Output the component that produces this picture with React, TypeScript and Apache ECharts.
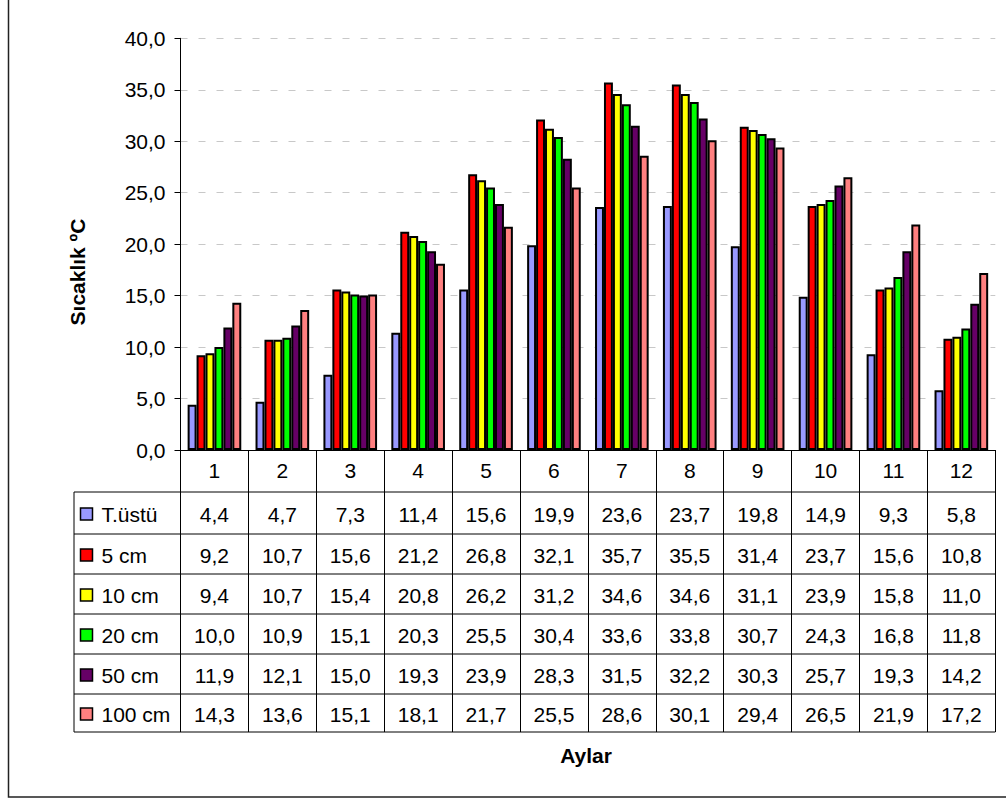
import React, { useEffect, useRef } from "react";
import * as echarts from "echarts";

const months = ["1", "2", "3", "4", "5", "6", "7", "8", "9", "10", "11", "12"];
const seriesNames = ["T.üstü", "5 cm", "10 cm", "20 cm", "50 cm", "100 cm"];
const seriesColors = ["#9999FF", "#FF0000", "#FFFF00", "#00FF00", "#660066", "#FF8080"];
const tUstu = [4.4, 4.7, 7.3, 11.4, 15.6, 19.9, 23.6, 23.7, 19.8, 14.9, 9.3, 5.8];
const cm5 = [9.2, 10.7, 15.6, 21.2, 26.8, 32.1, 35.7, 35.5, 31.4, 23.7, 15.6, 10.8];
const cm10 = [9.4, 10.7, 15.4, 20.8, 26.2, 31.2, 34.6, 34.6, 31.1, 23.9, 15.8, 11.0];
const cm20 = [10.0, 10.9, 15.1, 20.3, 25.5, 30.4, 33.6, 33.8, 30.7, 24.3, 16.8, 11.8];
const cm50 = [11.9, 12.1, 15.0, 19.3, 23.9, 28.3, 31.5, 32.2, 30.3, 25.7, 19.3, 14.2];
const cm100 = [14.3, 13.6, 15.1, 18.1, 21.7, 25.5, 28.6, 30.1, 29.4, 26.5, 21.9, 17.2];
const seriesData = [tUstu, cm5, cm10, cm20, cm50, cm100];
const yMin = 0;
const yMax = 40;
const yStep = 5;
const yTitle = "Sıcaklık ºC";
const xTitle = "Aylar";

const FONT = "'Liberation Sans', Arial, Helvetica, sans-serif";
const fmt = (v: number) => v.toFixed(1).replace(".", ",");

export default function App() {
  const ref = useRef<HTMLDivElement>(null);
  useEffect(() => {
    if (!ref.current) return;
    const chart = echarts.init(ref.current, null, { renderer: "svg" });
    const gridLeft = 180.5;
    const gridRight = 995.3;
    const gridTop = 38.3;
    const axisY = 450;
    const rowLines = [492, 534, 574, 614, 654, 694, 732];
    const tableLeft = 74;

    chart.setOption({
      animation: false,
      backgroundColor: "#ffffff",
      textStyle: { fontFamily: FONT },
      grid: { left: gridLeft, right: 1006 - gridRight, top: gridTop, bottom: 801 - axisY, containLabel: false },
      xAxis: {
        type: "category",
        data: months,
        axisLine: { lineStyle: { color: "#000", width: 1 } },
        axisTick: { show: true, length: rowLines[rowLines.length - 1] - axisY, lineStyle: { color: "#000", width: 1 } },
        axisLabel: { color: "#000", fontSize: 21, fontFamily: FONT, margin: 10 },
        splitLine: { show: false },
      },
      yAxis: {
        type: "value",
        min: yMin,
        max: yMax,
        interval: yStep,
        axisLine: { show: true, lineStyle: { color: "#000", width: 1 } },
        axisTick: { show: true, length: 6, lineStyle: { color: "#000", width: 1 } },
        axisLabel: { color: "#000", fontSize: 21, fontFamily: FONT, margin: 15, formatter: (v: number) => fmt(v) },
        splitLine: { show: true, lineStyle: { color: "#c8c8c8", width: 1, type: [7, 11] } },
      },
      series: seriesNames.map((name, i) => ({
        name,
        type: "bar",
        data: seriesData[i],
        barGap: "0%",
        barCategoryGap: "21%",
        itemStyle: { color: seriesColors[i], borderColor: "#000", borderWidth: 2 },
      })),
    });

    const xs = months.map((_, i) => chart.convertToPixel({ xAxisIndex: 0 }, i) as number);
    const g: any[] = [];
    g.push({
      type: "rect",
      shape: { x: 8.5, y: -10, width: 1020, height: 797 + 10 },
      style: { fill: "none", stroke: "#222", lineWidth: 1.5 },
      silent: true,
    });
    rowLines.forEach((y) => {
      g.push({
        type: "line",
        shape: { x1: tableLeft, y1: y, x2: gridRight, y2: y },
        style: { stroke: "#000", lineWidth: 1 },
      });
    });
    g.push({
      type: "line",
      shape: { x1: tableLeft, y1: rowLines[0], x2: tableLeft, y2: rowLines[rowLines.length - 1] },
      style: { stroke: "#000", lineWidth: 1 },
    });
    seriesNames.forEach((name, r) => {
      const cy = (rowLines[r] + rowLines[r + 1]) / 2 + 1.5;
      g.push({
        type: "rect",
        shape: { x: 80.5, y: cy - 6.5, width: 12, height: 12 },
        style: { fill: seriesColors[r], stroke: "#000", lineWidth: 1.5 },
      });
      g.push({
        type: "text",
        x: 101.5,
        y: cy,
        style: { text: name, font: `21px ${FONT}`, fill: "#000", align: "left", verticalAlign: "middle" },
      });
      seriesData[r].forEach((v, c) => {
        g.push({
          type: "text",
          x: xs[c],
          y: cy,
          style: { text: fmt(v), font: `21px ${FONT}`, fill: "#000", align: "center", verticalAlign: "middle" },
        });
      });
    });
    g.push({
      type: "text",
      x: 586,
      y: 755,
      style: { text: xTitle, font: `bold 21px ${FONT}`, fill: "#000", align: "center", verticalAlign: "middle" },
    });
    g.push({
      type: "text",
      x: 77,
      y: 272,
      rotation: Math.PI / 2,
      style: { text: yTitle, font: `bold 21px ${FONT}`, fill: "#000", align: "center", verticalAlign: "middle" },
    });
    chart.setOption({ graphic: g });

    return () => chart.dispose();
  }, []);
  return <div ref={ref} style={{ position: "fixed", left: 0, top: 0, width: 1006, height: 801 }} />;
}
